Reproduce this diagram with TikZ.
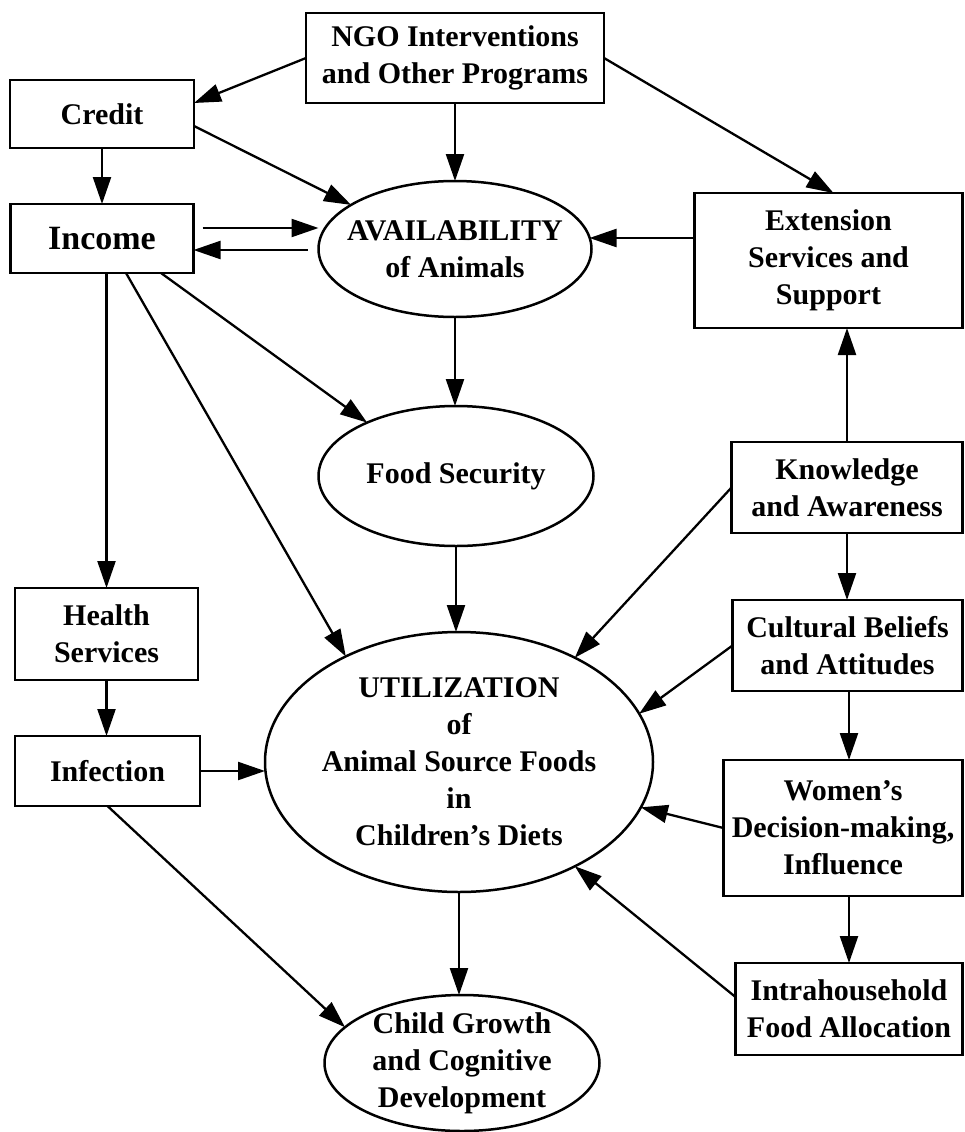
\documentclass[tikz,border=0pt]{standalone}
\usepackage{fontspec}
\setmainfont{Liberation Serif}
\usetikzlibrary{shapes.geometric,arrows.meta,calc}
\begin{document}
\begin{tikzpicture}[x=1pt,y=-1pt,
  every node/.style={font=\bfseries\fontsize{30}{37}\selectfont, align=center, inner sep=0pt, outer sep=0pt},
  box/.style={draw, rectangle, line width=2.6pt},
  ell/.style={draw, ellipse, line width=2.5pt},
  arr/.style={line width=2.3pt, -{Triangle[length=27pt,width=18pt]}},
]
\useasboundingbox (0,0) rectangle (965,1132);

% boxes
\node[box, minimum width=298pt, minimum height=90pt] (ngo) at (455,58) {NGO Interventions\\and Other Programs};
\node[box, minimum width=184pt, minimum height=68pt] (credit) at (102,114) {Credit};
\node[box, minimum width=183pt, minimum height=69pt, font=\bfseries\fontsize{34}{40}\selectfont] (income) at (102,238.5) {Income};
\node[box, minimum width=268pt, minimum height=135pt] (ext) at (828.5,260.5) {Extension\\Services and\\Support};
\node[box, minimum width=231pt, minimum height=91pt] (know) at (847,487.5) {Knowledge\\and Awareness};
\node[box, minimum width=183pt, minimum height=92pt] (health) at (106.5,634) {Health\\Services};
\node[box, minimum width=230pt, minimum height=91pt] (cult) at (847.5,645.5) {Cultural Beliefs\\and Attitudes};
\node[box, minimum width=185pt, minimum height=70pt] (infect) at (107.5,771) {Infection};
\node[box, minimum width=239pt, minimum height=136pt] (women) at (843,828) {Women's\\Decision-making,\\Influence};
\node[box, minimum width=227pt, minimum height=92pt] (intra) at (849,1009) {Intrahousehold\\Food Allocation};

% ellipses
\node[ell, minimum width=273pt, minimum height=136pt,
  label={center:{AVAILABILITY\\of Animals}}] (avail) at (455,249) {};
\node[ell, minimum width=275pt, minimum height=140pt,
  label={center:{Food Security}}] (food) at (456,476) {};
\node[ell, minimum width=388pt, minimum height=260pt,
  label={center:{UTILIZATION\\of\\Animal Source Foods\\in\\Children's Diets}}] (util) at (459,762) {};
\node[ell, minimum width=275pt, minimum height=136pt,
  label={center:{Child Growth\\and Cognitive\\Development}}] (child) at (462,1063) {};

% connectors
\draw[arr] (ngo.west) -- ($(credit.east)+(0,-11)$);
\draw[arr] (ngo.south) -- (avail.north);
\draw[arr] (ngo.east) -- ($(ext.north)+(5,0)$);
\draw[arr] (credit.south) -- (income.north);
\draw[arr] ($(credit.east)+(0,12)$) -- (avail.157);
\draw[arr] ($(income.east)+(9,-10.5)$) -- ($(income.east -| avail.west)+(0,-10.5)$);
\draw[arr] ($(income.east -| avail.west)+(-11,11.5)$) -- ($(income.east)+(0,11.5)$);
\draw[arr] ($(ext.west)+(0,-22.5)$) -- ($(ext.west -| avail.east)+(-2,-22.5)$);
\draw[arr] (health.north |- income.south) -- (health.north);
\draw[arr] ($(income.south)+(59,0)$) -- (food.149);
\draw[arr] ($(income.south)+(24,0)$) -- (util.137);
\draw[arr] (avail.south) -- (avail.south |- food.north);
\draw[arr] (food.south) -- (food.south |- util.north);
\draw[arr] (know.north) -- (know.north |- ext.south);
\draw[arr] (know.west) -- (util.42);
\draw[arr] (know.south) -- (know.south |- cult.north);
\draw[arr] (cult.west) -- (util.15);
\draw[arr] (health.south) -- (health.south |- infect.north);
\draw[arr] (infect.east) -- (infect.east -| util.west);
\draw[arr] (infect.south) -- (child.163);
\draw[arr] (util.south) -- (util.south |- child.north);
\draw[arr] ($(cult.south)+(1.5,0)$) -- ($(cult.south |- women.north)+(1.5,0)$);
\draw[arr] (women.west) -- (util.346);
\draw[arr] (intra.north |- women.south) -- (intra.north);
\draw[arr] ($(intra.west)+(0,-12)$) -- (util.318);
\end{tikzpicture}
\end{document}
